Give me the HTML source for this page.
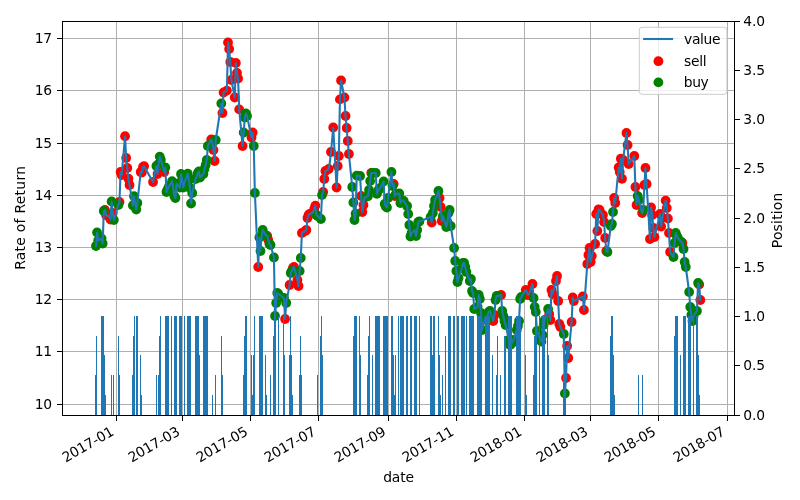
<!DOCTYPE html>
<html><head><meta charset="utf-8"><title>chart</title>
<style>html,body{margin:0;padding:0;background:#fff;overflow:hidden}body{width:800px;height:500px}</style>
</head><body>
<svg width="800" height="500" viewBox="0 0 800 500" style="display:block;font-family:'DejaVu Sans','Liberation Sans',sans-serif">
<rect width="800" height="500" fill="#fff"/>
<path d="M116.5 21.5V415.5M182.5 21.5V415.5M250.5 21.5V415.5M318.5 21.5V415.5M388.5 21.5V415.5M456.5 21.5V415.5M524.5 21.5V415.5M590.5 21.5V415.5M658.5 21.5V415.5M727.5 21.5V415.5M62.5 404.5H734.5M62.5 351.5H734.5M62.5 299.5H734.5M62.5 247.5H734.5M62.5 195.5H734.5M62.5 143.5H734.5M62.5 90.5H734.5M62.5 38.5H734.5" stroke="#b0b0b0" stroke-width="1" fill="none" shape-rendering="crispEdges"/>
<g fill="#ff0000"><circle cx="104.91" cy="210.00" r="4.9"/><circle cx="106.03" cy="215.00" r="4.9"/><circle cx="109.38" cy="217.00" r="4.9"/><circle cx="110.50" cy="219.50" r="4.9"/><circle cx="112.74" cy="213.00" r="4.9"/><circle cx="119.46" cy="202.00" r="4.9"/><circle cx="120.58" cy="172.00" r="4.9"/><circle cx="121.70" cy="175.00" r="4.9"/><circle cx="125.05" cy="136.25" r="4.9"/><circle cx="126.17" cy="158.00" r="4.9"/><circle cx="127.29" cy="168.00" r="4.9"/><circle cx="128.41" cy="178.75" r="4.9"/><circle cx="129.53" cy="185.00" r="4.9"/><circle cx="140.72" cy="172.00" r="4.9"/><circle cx="141.84" cy="172.50" r="4.9"/><circle cx="142.96" cy="167.00" r="4.9"/><circle cx="144.08" cy="166.25" r="4.9"/><circle cx="153.03" cy="182.00" r="4.9"/><circle cx="157.51" cy="174.00" r="4.9"/><circle cx="164.23" cy="172.00" r="4.9"/><circle cx="211.23" cy="139.50" r="4.9"/><circle cx="213.47" cy="150.00" r="4.9"/><circle cx="214.59" cy="161.00" r="4.9"/><circle cx="222.42" cy="113.00" r="4.9"/><circle cx="223.54" cy="92.50" r="4.9"/><circle cx="226.90" cy="90.60" r="4.9"/><circle cx="228.02" cy="42.50" r="4.9"/><circle cx="229.14" cy="49.00" r="4.9"/><circle cx="230.26" cy="62.00" r="4.9"/><circle cx="231.38" cy="80.00" r="4.9"/><circle cx="234.74" cy="97.50" r="4.9"/><circle cx="235.85" cy="63.00" r="4.9"/><circle cx="236.97" cy="73.00" r="4.9"/><circle cx="238.09" cy="78.50" r="4.9"/><circle cx="239.21" cy="109.40" r="4.9"/><circle cx="242.57" cy="146.00" r="4.9"/><circle cx="251.52" cy="137.50" r="4.9"/><circle cx="252.64" cy="132.50" r="4.9"/><circle cx="258.24" cy="267.00" r="4.9"/><circle cx="267.19" cy="236.00" r="4.9"/><circle cx="268.31" cy="240.00" r="4.9"/><circle cx="285.10" cy="319.00" r="4.9"/><circle cx="289.58" cy="285.00" r="4.9"/><circle cx="292.93" cy="268.00" r="4.9"/><circle cx="294.05" cy="267.00" r="4.9"/><circle cx="297.41" cy="280.00" r="4.9"/><circle cx="298.53" cy="286.00" r="4.9"/><circle cx="301.89" cy="233.00" r="4.9"/><circle cx="305.24" cy="231.00" r="4.9"/><circle cx="306.36" cy="230.00" r="4.9"/><circle cx="307.48" cy="218.00" r="4.9"/><circle cx="308.60" cy="215.00" r="4.9"/><circle cx="309.72" cy="214.00" r="4.9"/><circle cx="313.08" cy="212.50" r="4.9"/><circle cx="314.20" cy="209.00" r="4.9"/><circle cx="315.32" cy="205.60" r="4.9"/><circle cx="323.15" cy="192.00" r="4.9"/><circle cx="324.27" cy="179.00" r="4.9"/><circle cx="325.39" cy="171.00" r="4.9"/><circle cx="328.75" cy="169.00" r="4.9"/><circle cx="330.99" cy="152.00" r="4.9"/><circle cx="333.22" cy="127.50" r="4.9"/><circle cx="336.58" cy="187.50" r="4.9"/><circle cx="337.70" cy="166.00" r="4.9"/><circle cx="338.82" cy="156.00" r="4.9"/><circle cx="339.94" cy="99.40" r="4.9"/><circle cx="341.06" cy="80.50" r="4.9"/><circle cx="344.42" cy="97.50" r="4.9"/><circle cx="345.54" cy="116.00" r="4.9"/><circle cx="346.66" cy="128.00" r="4.9"/><circle cx="347.77" cy="141.00" r="4.9"/><circle cx="348.89" cy="154.00" r="4.9"/><circle cx="361.20" cy="196.00" r="4.9"/><circle cx="362.32" cy="212.00" r="4.9"/><circle cx="363.44" cy="205.00" r="4.9"/><circle cx="371.28" cy="173.00" r="4.9"/><circle cx="393.66" cy="184.00" r="4.9"/><circle cx="394.78" cy="196.00" r="4.9"/><circle cx="431.71" cy="222.50" r="4.9"/><circle cx="439.55" cy="198.00" r="4.9"/><circle cx="440.67" cy="207.00" r="4.9"/><circle cx="441.79" cy="221.00" r="4.9"/><circle cx="493.27" cy="321.00" r="4.9"/><circle cx="494.39" cy="315.00" r="4.9"/><circle cx="501.10" cy="295.00" r="4.9"/><circle cx="525.73" cy="290.00" r="4.9"/><circle cx="526.85" cy="292.00" r="4.9"/><circle cx="527.97" cy="295.00" r="4.9"/><circle cx="529.08" cy="294.00" r="4.9"/><circle cx="532.44" cy="284.00" r="4.9"/><circle cx="549.23" cy="314.00" r="4.9"/><circle cx="550.35" cy="320.00" r="4.9"/><circle cx="551.47" cy="290.00" r="4.9"/><circle cx="552.59" cy="294.00" r="4.9"/><circle cx="555.95" cy="281.00" r="4.9"/><circle cx="557.06" cy="276.00" r="4.9"/><circle cx="558.18" cy="301.00" r="4.9"/><circle cx="559.30" cy="324.00" r="4.9"/><circle cx="560.42" cy="327.00" r="4.9"/><circle cx="566.02" cy="378.00" r="4.9"/><circle cx="567.14" cy="346.00" r="4.9"/><circle cx="568.26" cy="358.00" r="4.9"/><circle cx="571.61" cy="322.00" r="4.9"/><circle cx="572.73" cy="297.50" r="4.9"/><circle cx="573.85" cy="301.00" r="4.9"/><circle cx="582.81" cy="296.50" r="4.9"/><circle cx="583.93" cy="310.00" r="4.9"/><circle cx="587.28" cy="264.00" r="4.9"/><circle cx="588.40" cy="255.00" r="4.9"/><circle cx="589.52" cy="248.00" r="4.9"/><circle cx="590.64" cy="262.00" r="4.9"/><circle cx="591.76" cy="256.00" r="4.9"/><circle cx="595.12" cy="244.00" r="4.9"/><circle cx="596.24" cy="214.00" r="4.9"/><circle cx="597.36" cy="231.00" r="4.9"/><circle cx="598.48" cy="209.50" r="4.9"/><circle cx="599.59" cy="210.00" r="4.9"/><circle cx="602.95" cy="215.00" r="4.9"/><circle cx="604.07" cy="222.00" r="4.9"/><circle cx="605.19" cy="238.00" r="4.9"/><circle cx="606.31" cy="251.00" r="4.9"/><circle cx="614.14" cy="198.00" r="4.9"/><circle cx="615.26" cy="203.00" r="4.9"/><circle cx="618.62" cy="167.50" r="4.9"/><circle cx="619.74" cy="172.00" r="4.9"/><circle cx="620.86" cy="158.75" r="4.9"/><circle cx="621.98" cy="178.75" r="4.9"/><circle cx="623.10" cy="160.00" r="4.9"/><circle cx="626.46" cy="133.00" r="4.9"/><circle cx="627.57" cy="145.00" r="4.9"/><circle cx="628.69" cy="164.00" r="4.9"/><circle cx="634.29" cy="156.00" r="4.9"/><circle cx="635.41" cy="187.00" r="4.9"/><circle cx="636.53" cy="205.00" r="4.9"/><circle cx="642.12" cy="213.00" r="4.9"/><circle cx="644.36" cy="185.00" r="4.9"/><circle cx="645.48" cy="168.00" r="4.9"/><circle cx="646.60" cy="184.00" r="4.9"/><circle cx="649.96" cy="239.00" r="4.9"/><circle cx="651.08" cy="207.50" r="4.9"/><circle cx="652.20" cy="215.00" r="4.9"/><circle cx="653.32" cy="228.00" r="4.9"/><circle cx="654.44" cy="237.00" r="4.9"/><circle cx="660.03" cy="214.00" r="4.9"/><circle cx="661.15" cy="226.50" r="4.9"/><circle cx="662.27" cy="218.00" r="4.9"/><circle cx="665.63" cy="200.60" r="4.9"/><circle cx="666.75" cy="208.00" r="4.9"/><circle cx="667.87" cy="218.50" r="4.9"/><circle cx="668.98" cy="233.00" r="4.9"/><circle cx="670.10" cy="252.00" r="4.9"/><circle cx="682.42" cy="243.00" r="4.9"/><circle cx="699.20" cy="284.50" r="4.9"/><circle cx="700.32" cy="300.00" r="4.9"/></g>
<g fill="#008000"><circle cx="95.95" cy="246.00" r="4.9"/><circle cx="97.07" cy="232.50" r="4.9"/><circle cx="98.19" cy="240.50" r="4.9"/><circle cx="101.55" cy="238.50" r="4.9"/><circle cx="102.67" cy="243.50" r="4.9"/><circle cx="103.79" cy="211.00" r="4.9"/><circle cx="111.62" cy="201.50" r="4.9"/><circle cx="113.86" cy="220.00" r="4.9"/><circle cx="118.34" cy="205.00" r="4.9"/><circle cx="132.89" cy="205.50" r="4.9"/><circle cx="134.01" cy="196.25" r="4.9"/><circle cx="135.13" cy="203.00" r="4.9"/><circle cx="136.25" cy="209.50" r="4.9"/><circle cx="137.36" cy="203.00" r="4.9"/><circle cx="156.39" cy="166.00" r="4.9"/><circle cx="158.63" cy="164.00" r="4.9"/><circle cx="159.75" cy="156.60" r="4.9"/><circle cx="160.87" cy="160.00" r="4.9"/><circle cx="165.34" cy="167.50" r="4.9"/><circle cx="166.46" cy="192.00" r="4.9"/><circle cx="167.58" cy="189.50" r="4.9"/><circle cx="168.70" cy="187.00" r="4.9"/><circle cx="172.06" cy="181.25" r="4.9"/><circle cx="173.18" cy="188.00" r="4.9"/><circle cx="174.30" cy="196.00" r="4.9"/><circle cx="175.42" cy="198.00" r="4.9"/><circle cx="176.54" cy="183.75" r="4.9"/><circle cx="179.89" cy="187.50" r="4.9"/><circle cx="181.01" cy="174.00" r="4.9"/><circle cx="182.13" cy="180.00" r="4.9"/><circle cx="183.25" cy="187.50" r="4.9"/><circle cx="184.37" cy="183.00" r="4.9"/><circle cx="187.73" cy="173.75" r="4.9"/><circle cx="188.85" cy="180.00" r="4.9"/><circle cx="189.97" cy="188.00" r="4.9"/><circle cx="191.09" cy="203.50" r="4.9"/><circle cx="192.21" cy="193.00" r="4.9"/><circle cx="195.56" cy="179.00" r="4.9"/><circle cx="196.68" cy="177.00" r="4.9"/><circle cx="197.80" cy="173.00" r="4.9"/><circle cx="198.92" cy="171.50" r="4.9"/><circle cx="200.04" cy="177.50" r="4.9"/><circle cx="203.40" cy="174.00" r="4.9"/><circle cx="204.52" cy="169.00" r="4.9"/><circle cx="205.64" cy="165.00" r="4.9"/><circle cx="206.76" cy="160.00" r="4.9"/><circle cx="207.87" cy="146.00" r="4.9"/><circle cx="212.35" cy="143.00" r="4.9"/><circle cx="215.71" cy="140.00" r="4.9"/><circle cx="221.30" cy="103.50" r="4.9"/><circle cx="243.69" cy="132.50" r="4.9"/><circle cx="244.81" cy="117.50" r="4.9"/><circle cx="245.93" cy="113.50" r="4.9"/><circle cx="247.05" cy="116.00" r="4.9"/><circle cx="253.76" cy="146.00" r="4.9"/><circle cx="254.88" cy="193.00" r="4.9"/><circle cx="259.36" cy="237.50" r="4.9"/><circle cx="260.48" cy="251.00" r="4.9"/><circle cx="261.60" cy="236.00" r="4.9"/><circle cx="262.72" cy="230.00" r="4.9"/><circle cx="266.07" cy="235.50" r="4.9"/><circle cx="269.43" cy="244.00" r="4.9"/><circle cx="270.55" cy="245.00" r="4.9"/><circle cx="273.91" cy="257.50" r="4.9"/><circle cx="275.03" cy="316.00" r="4.9"/><circle cx="276.15" cy="303.00" r="4.9"/><circle cx="277.26" cy="293.00" r="4.9"/><circle cx="278.38" cy="294.00" r="4.9"/><circle cx="283.98" cy="298.00" r="4.9"/><circle cx="286.22" cy="303.00" r="4.9"/><circle cx="290.70" cy="273.00" r="4.9"/><circle cx="291.81" cy="271.00" r="4.9"/><circle cx="299.65" cy="271.00" r="4.9"/><circle cx="300.77" cy="258.00" r="4.9"/><circle cx="316.44" cy="215.00" r="4.9"/><circle cx="317.56" cy="216.00" r="4.9"/><circle cx="320.91" cy="219.00" r="4.9"/><circle cx="322.03" cy="195.00" r="4.9"/><circle cx="352.25" cy="187.00" r="4.9"/><circle cx="353.37" cy="202.50" r="4.9"/><circle cx="354.49" cy="220.00" r="4.9"/><circle cx="355.61" cy="213.75" r="4.9"/><circle cx="356.73" cy="175.60" r="4.9"/><circle cx="360.09" cy="176.00" r="4.9"/><circle cx="364.56" cy="197.50" r="4.9"/><circle cx="367.92" cy="196.25" r="4.9"/><circle cx="369.04" cy="190.00" r="4.9"/><circle cx="370.16" cy="181.00" r="4.9"/><circle cx="372.40" cy="173.00" r="4.9"/><circle cx="375.75" cy="173.00" r="4.9"/><circle cx="376.87" cy="193.75" r="4.9"/><circle cx="377.99" cy="191.00" r="4.9"/><circle cx="379.11" cy="189.00" r="4.9"/><circle cx="380.23" cy="188.00" r="4.9"/><circle cx="383.59" cy="181.50" r="4.9"/><circle cx="384.71" cy="204.00" r="4.9"/><circle cx="385.83" cy="206.50" r="4.9"/><circle cx="386.95" cy="207.50" r="4.9"/><circle cx="388.07" cy="198.00" r="4.9"/><circle cx="391.42" cy="172.00" r="4.9"/><circle cx="392.54" cy="186.00" r="4.9"/><circle cx="395.90" cy="194.00" r="4.9"/><circle cx="399.26" cy="193.50" r="4.9"/><circle cx="400.38" cy="203.00" r="4.9"/><circle cx="401.50" cy="201.00" r="4.9"/><circle cx="402.62" cy="200.60" r="4.9"/><circle cx="403.73" cy="201.00" r="4.9"/><circle cx="407.09" cy="206.00" r="4.9"/><circle cx="408.21" cy="214.00" r="4.9"/><circle cx="409.33" cy="225.00" r="4.9"/><circle cx="410.45" cy="236.50" r="4.9"/><circle cx="411.57" cy="233.00" r="4.9"/><circle cx="414.93" cy="230.00" r="4.9"/><circle cx="416.05" cy="236.00" r="4.9"/><circle cx="417.16" cy="230.00" r="4.9"/><circle cx="418.28" cy="222.00" r="4.9"/><circle cx="419.40" cy="221.50" r="4.9"/><circle cx="430.60" cy="217.00" r="4.9"/><circle cx="432.83" cy="213.00" r="4.9"/><circle cx="433.95" cy="206.00" r="4.9"/><circle cx="435.07" cy="200.00" r="4.9"/><circle cx="438.43" cy="191.00" r="4.9"/><circle cx="442.91" cy="216.00" r="4.9"/><circle cx="446.26" cy="227.00" r="4.9"/><circle cx="447.38" cy="222.00" r="4.9"/><circle cx="448.50" cy="213.00" r="4.9"/><circle cx="449.62" cy="210.00" r="4.9"/><circle cx="450.74" cy="226.00" r="4.9"/><circle cx="454.10" cy="248.00" r="4.9"/><circle cx="455.22" cy="261.00" r="4.9"/><circle cx="456.34" cy="271.00" r="4.9"/><circle cx="457.46" cy="282.00" r="4.9"/><circle cx="458.58" cy="278.00" r="4.9"/><circle cx="461.93" cy="268.00" r="4.9"/><circle cx="463.05" cy="263.00" r="4.9"/><circle cx="464.17" cy="263.00" r="4.9"/><circle cx="465.29" cy="267.00" r="4.9"/><circle cx="466.41" cy="272.00" r="4.9"/><circle cx="469.77" cy="281.00" r="4.9"/><circle cx="470.89" cy="279.00" r="4.9"/><circle cx="472.01" cy="291.00" r="4.9"/><circle cx="473.12" cy="293.00" r="4.9"/><circle cx="474.24" cy="309.00" r="4.9"/><circle cx="477.60" cy="307.00" r="4.9"/><circle cx="478.72" cy="295.00" r="4.9"/><circle cx="479.84" cy="299.00" r="4.9"/><circle cx="480.96" cy="313.00" r="4.9"/><circle cx="482.08" cy="330.00" r="4.9"/><circle cx="485.44" cy="317.00" r="4.9"/><circle cx="486.56" cy="320.00" r="4.9"/><circle cx="487.67" cy="315.00" r="4.9"/><circle cx="488.79" cy="312.00" r="4.9"/><circle cx="489.91" cy="311.00" r="4.9"/><circle cx="495.51" cy="300.00" r="4.9"/><circle cx="496.63" cy="296.00" r="4.9"/><circle cx="497.75" cy="296.00" r="4.9"/><circle cx="502.22" cy="311.00" r="4.9"/><circle cx="503.34" cy="316.00" r="4.9"/><circle cx="504.46" cy="321.00" r="4.9"/><circle cx="505.58" cy="325.00" r="4.9"/><circle cx="508.94" cy="340.00" r="4.9"/><circle cx="510.06" cy="345.00" r="4.9"/><circle cx="511.18" cy="344.00" r="4.9"/><circle cx="512.30" cy="342.50" r="4.9"/><circle cx="513.42" cy="340.00" r="4.9"/><circle cx="516.77" cy="330.00" r="4.9"/><circle cx="517.89" cy="326.00" r="4.9"/><circle cx="519.01" cy="321.00" r="4.9"/><circle cx="520.13" cy="299.00" r="4.9"/><circle cx="521.25" cy="297.00" r="4.9"/><circle cx="533.56" cy="298.00" r="4.9"/><circle cx="534.68" cy="307.00" r="4.9"/><circle cx="535.80" cy="312.00" r="4.9"/><circle cx="536.92" cy="331.00" r="4.9"/><circle cx="540.28" cy="339.00" r="4.9"/><circle cx="541.40" cy="341.50" r="4.9"/><circle cx="542.52" cy="335.00" r="4.9"/><circle cx="543.63" cy="325.00" r="4.9"/><circle cx="544.75" cy="320.00" r="4.9"/><circle cx="548.11" cy="309.00" r="4.9"/><circle cx="563.78" cy="334.00" r="4.9"/><circle cx="564.90" cy="393.50" r="4.9"/><circle cx="607.43" cy="252.00" r="4.9"/><circle cx="610.79" cy="226.00" r="4.9"/><circle cx="611.91" cy="224.00" r="4.9"/><circle cx="613.02" cy="212.00" r="4.9"/><circle cx="637.65" cy="196.00" r="4.9"/><circle cx="638.77" cy="200.00" r="4.9"/><circle cx="643.24" cy="210.00" r="4.9"/><circle cx="673.46" cy="257.00" r="4.9"/><circle cx="674.58" cy="243.00" r="4.9"/><circle cx="675.70" cy="233.00" r="4.9"/><circle cx="676.82" cy="236.00" r="4.9"/><circle cx="677.94" cy="238.00" r="4.9"/><circle cx="681.30" cy="242.00" r="4.9"/><circle cx="683.53" cy="249.00" r="4.9"/><circle cx="684.65" cy="262.00" r="4.9"/><circle cx="685.77" cy="267.00" r="4.9"/><circle cx="689.13" cy="292.00" r="4.9"/><circle cx="690.25" cy="307.00" r="4.9"/><circle cx="691.37" cy="315.00" r="4.9"/><circle cx="692.49" cy="321.00" r="4.9"/><circle cx="693.61" cy="316.00" r="4.9"/><circle cx="696.96" cy="311.00" r="4.9"/><circle cx="698.08" cy="283.00" r="4.9"/></g>
<polyline points="95.95,246.00 97.07,232.50 98.19,240.50 101.55,238.50 102.67,243.50 103.79,211.00 104.91,210.00 106.03,215.00 109.38,217.00 110.50,219.50 111.62,201.50 112.74,213.00 113.86,220.00 118.34,205.00 119.46,202.00 120.58,172.00 121.70,175.00 125.05,136.25 126.17,158.00 127.29,168.00 128.41,178.75 129.53,185.00 132.89,205.50 134.01,196.25 135.13,203.00 136.25,209.50 137.36,203.00 140.72,172.00 141.84,172.50 142.96,167.00 144.08,166.25 153.03,182.00 156.39,166.00 157.51,174.00 158.63,164.00 159.75,156.60 160.87,160.00 164.23,172.00 165.34,167.50 166.46,192.00 167.58,189.50 168.70,187.00 172.06,181.25 173.18,188.00 174.30,196.00 175.42,198.00 176.54,183.75 179.89,187.50 181.01,174.00 182.13,180.00 183.25,187.50 184.37,183.00 187.73,173.75 188.85,180.00 189.97,188.00 191.09,203.50 192.21,193.00 195.56,179.00 196.68,177.00 197.80,173.00 198.92,171.50 200.04,177.50 203.40,174.00 204.52,169.00 205.64,165.00 206.76,160.00 207.87,146.00 211.23,139.50 212.35,143.00 213.47,150.00 214.59,161.00 215.71,140.00 221.30,103.50 222.42,113.00 223.54,92.50 226.90,90.60 228.02,42.50 229.14,49.00 230.26,62.00 231.38,80.00 234.74,97.50 235.85,63.00 236.97,73.00 238.09,78.50 239.21,109.40 242.57,146.00 243.69,132.50 244.81,117.50 245.93,113.50 247.05,116.00 251.52,137.50 252.64,132.50 253.76,146.00 254.88,193.00 258.24,267.00 259.36,237.50 260.48,251.00 261.60,236.00 262.72,230.00 266.07,235.50 267.19,236.00 268.31,240.00 269.43,244.00 270.55,245.00 273.91,257.50 275.03,316.00 276.15,303.00 277.26,293.00 278.38,294.00 283.98,298.00 285.10,319.00 286.22,303.00 289.58,285.00 290.70,273.00 291.81,271.00 292.93,268.00 294.05,267.00 297.41,280.00 298.53,286.00 299.65,271.00 300.77,258.00 301.89,233.00 305.24,231.00 306.36,230.00 307.48,218.00 308.60,215.00 309.72,214.00 313.08,212.50 314.20,209.00 315.32,205.60 316.44,215.00 317.56,216.00 320.91,219.00 322.03,195.00 323.15,192.00 324.27,179.00 325.39,171.00 328.75,169.00 329.87,162.00 330.99,152.00 332.11,140.00 333.22,127.50 336.58,187.50 337.70,166.00 338.82,156.00 339.94,99.40 341.06,80.50 344.42,97.50 345.54,116.00 346.66,128.00 347.77,141.00 348.89,154.00 352.25,187.00 353.37,202.50 354.49,220.00 355.61,213.75 356.73,175.60 360.09,176.00 361.20,196.00 362.32,212.00 363.44,205.00 364.56,197.50 367.92,196.25 369.04,190.00 370.16,181.00 371.28,173.00 372.40,173.00 375.75,173.00 376.87,193.75 377.99,191.00 379.11,189.00 380.23,188.00 383.59,181.50 384.71,204.00 385.83,206.50 386.95,207.50 388.07,198.00 391.42,172.00 392.54,186.00 393.66,184.00 394.78,196.00 395.90,194.00 399.26,193.50 400.38,203.00 401.50,201.00 402.62,200.60 403.73,201.00 407.09,206.00 408.21,214.00 409.33,225.00 410.45,236.50 411.57,233.00 414.93,230.00 416.05,236.00 417.16,230.00 418.28,222.00 419.40,221.50 430.60,217.00 431.71,222.50 432.83,213.00 433.95,206.00 435.07,200.00 438.43,191.00 439.55,198.00 440.67,207.00 441.79,221.00 442.91,216.00 446.26,227.00 447.38,222.00 448.50,213.00 449.62,210.00 450.74,226.00 454.10,248.00 455.22,261.00 456.34,271.00 457.46,282.00 458.58,278.00 461.93,268.00 463.05,263.00 464.17,263.00 465.29,267.00 466.41,272.00 469.77,281.00 470.89,279.00 472.01,291.00 473.12,293.00 474.24,309.00 477.60,307.00 478.72,295.00 479.84,299.00 480.96,313.00 482.08,330.00 485.44,317.00 486.56,320.00 487.67,315.00 488.79,312.00 489.91,311.00 493.27,321.00 494.39,315.00 495.51,300.00 496.63,296.00 497.75,296.00 501.10,295.00 502.22,311.00 503.34,316.00 504.46,321.00 505.58,325.00 508.94,340.00 510.06,345.00 511.18,344.00 512.30,342.50 513.42,340.00 516.77,330.00 517.89,326.00 519.01,321.00 520.13,299.00 521.25,297.00 525.73,290.00 526.85,292.00 527.97,295.00 529.08,294.00 532.44,284.00 533.56,298.00 534.68,307.00 535.80,312.00 536.92,331.00 540.28,339.00 541.40,341.50 542.52,335.00 543.63,325.00 544.75,320.00 548.11,309.00 549.23,314.00 550.35,320.00 551.47,290.00 552.59,294.00 555.95,281.00 557.06,276.00 558.18,301.00 559.30,324.00 560.42,327.00 563.78,334.00 564.90,393.50 566.02,378.00 567.14,346.00 568.26,358.00 571.61,322.00 572.73,297.50 573.85,301.00 582.81,296.50 583.93,310.00 587.28,264.00 588.40,255.00 589.52,248.00 590.64,262.00 591.76,256.00 595.12,244.00 596.24,214.00 597.36,231.00 598.48,209.50 599.59,210.00 602.95,215.00 604.07,222.00 605.19,238.00 606.31,251.00 607.43,252.00 610.79,226.00 611.91,224.00 613.02,212.00 614.14,198.00 615.26,203.00 618.62,167.50 619.74,172.00 620.86,158.75 621.98,178.75 623.10,160.00 626.46,133.00 627.57,145.00 628.69,164.00 634.29,156.00 635.41,187.00 636.53,205.00 637.65,196.00 638.77,200.00 642.12,213.00 643.24,210.00 644.36,185.00 645.48,168.00 646.60,184.00 649.96,239.00 651.08,207.50 652.20,215.00 653.32,228.00 654.44,237.00 660.03,214.00 661.15,226.50 662.27,218.00 665.63,200.60 666.75,208.00 667.87,218.50 668.98,233.00 670.10,252.00 673.46,257.00 674.58,243.00 675.70,233.00 676.82,236.00 677.94,238.00 681.30,242.00 682.42,243.00 683.53,249.00 684.65,262.00 685.77,267.00 689.13,292.00 690.25,307.00 691.37,315.00 692.49,321.00 693.61,316.00 696.96,311.00 698.08,283.00 699.20,284.50 700.32,300.00" fill="none" stroke="#1f77b4" stroke-width="2.08" stroke-linejoin="round" stroke-linecap="square"/>
<path d="M95 375H96V415H95ZM96 336H97V415H96ZM101 316H104V415H101ZM104 355H105V415H104ZM105 395H106V415H105ZM111 375H112V415H111ZM113 375H114V415H113ZM118 336H119V415H118ZM119 375H120V415H119ZM132 375H133V415H132ZM133 336H134V415H133ZM134 316H135V415H134ZM136 316H138V415H136ZM140 355H141V415H140ZM141 395H142V415H141ZM156 375H157V415H156ZM158 375H159V415H158ZM159 336H160V415H159ZM160 316H161V415H160ZM165 316H169V415H165ZM171 316H172V415H171ZM174 316H177V415H174ZM179 316H182V415H179ZM184 316H185V415H184ZM187 316H191V415H187ZM195 316H199V415H195ZM199 355H200V415H199ZM203 316H208V415H203ZM212 395H213V415H212ZM215 375H216V415H215ZM221 336H222V415H221ZM222 375H223V415H222ZM243 375H244V415H243ZM244 336H245V415H244ZM245 316H247V415H245ZM251 355H252V415H251ZM252 395H253V415H252ZM253 355H254V415H253ZM254 316H255V415H254ZM259 316H263V415H259ZM265 355H266V415H265ZM266 395H267V415H266ZM270 375H271V415H270ZM273 336H274V415H273ZM274 316H276V415H274ZM278 316H279V415H278ZM283 316H284V415H283ZM284 355H285V415H284ZM289 355H290V415H289ZM290 316H291V415H290ZM291 355H292V415H291ZM292 395H293V415H292ZM299 375H300V415H299ZM300 336H301V415H300ZM301 375H302V415H301ZM317 375H318V415H317ZM320 336H321V415H320ZM321 316H322V415H321ZM322 355H323V415H322ZM353 336H354V415H353ZM354 316H357V415H354ZM359 316H360V415H359ZM360 355H361V415H360ZM367 375H368V415H367ZM368 336H369V415H368ZM369 316H370V415H369ZM372 355H373V415H372ZM375 316H380V415H375ZM383 316H388V415H383ZM391 316H393V415H391ZM393 355H394V415H393ZM394 395H395V415H394ZM395 355H396V415H395ZM398 316H399V415H398ZM400 316H404V415H400ZM406 316H408V415H406ZM410 316H412V415H410ZM414 316H417V415H414ZM419 316H420V415H419ZM430 316H432V415H430ZM432 355H433V415H432ZM433 316H435V415H433ZM438 316H439V415H438ZM439 355H440V415H439ZM440 395H441V415H440ZM442 375H443V415H442ZM445 336H446V415H445ZM448 316H451V415H448ZM453 316H455V415H453ZM457 316H459V415H457ZM461 316H465V415H461ZM466 316H467V415H466ZM469 316H474V415H469ZM477 316H482V415H477ZM485 316H490V415H485ZM492 355H493V415H492ZM496 375H497V415H496ZM497 336H498V415H497ZM500 375H501V415H500ZM504 336H506V415H504ZM508 316H512V415H508ZM516 316H521V415H516ZM525 355H526V415H525ZM526 395H527V415H526ZM533 375H534V415H533ZM534 336H535V415H534ZM535 316H537V415H535ZM539 316H540V415H539ZM542 316H545V415H542ZM547 316H548V415H547ZM548 355H549V415H548ZM563 375H566V415H563ZM610 336H611V415H610ZM611 316H613V415H611ZM613 355H614V415H613ZM614 395H615V415H614ZM638 375H639V415H638ZM642 375H643V415H642ZM674 336H675V415H674ZM675 316H678V415H675ZM680 355H681V415H680ZM683 316H686V415H683ZM688 316H691V415H688ZM693 316H694V415H693ZM696 316H698V415H696ZM698 355H699V415H698ZM699 395H700V415H699Z" fill="#1f77b4" shape-rendering="crispEdges"/>
<rect x="639.3" y="27.3" width="87.6" height="67.0" rx="2.8" ry="2.8" fill="#fff" fill-opacity="0.8" stroke="#ccc" stroke-width="1"/>
<path d="M643.1 39H673.1" stroke="#1f77b4" stroke-width="2.08"/>
<circle cx="658.4" cy="61.2" r="4.9" fill="#f00"/><circle cx="658.4" cy="82.4" r="4.9" fill="#008000"/>
<g font-size="13.89px" fill="#000" letter-spacing="-0.36"><text x="684.1" y="43.7">value</text><text x="684.1" y="65.5">sell</text><text x="683.7" y="86.6">buy</text></g>
<rect x="62.5" y="21.5" width="672.0" height="394.0" fill="none" stroke="#000" stroke-width="1" shape-rendering="crispEdges"/>
<path d="M116.5 415.5v5M182.5 415.5v5M250.5 415.5v5M318.5 415.5v5M388.5 415.5v5M456.5 415.5v5M524.5 415.5v5M590.5 415.5v5M658.5 415.5v5M727.5 415.5v5M62.5 404.5h-5.5M62.5 351.5h-5.5M62.5 299.5h-5.5M62.5 247.5h-5.5M62.5 195.5h-5.5M62.5 143.5h-5.5M62.5 90.5h-5.5M62.5 38.5h-5.5M734.5 415.5h5.5M734.5 365.5h5.5M734.5 316.5h5.5M734.5 267.5h5.5M734.5 218.5h5.5M734.5 168.5h5.5M734.5 119.5h5.5M734.5 70.5h5.5M734.5 21.5h5.5" stroke="#000" stroke-width="1" fill="none" shape-rendering="crispEdges"/>
<g font-size="13.89px" fill="#000" letter-spacing="-0.2">
<text x="51.9" y="408.9" text-anchor="end">10</text>
<text x="51.9" y="355.9" text-anchor="end">11</text>
<text x="51.9" y="303.9" text-anchor="end">12</text>
<text x="51.9" y="251.9" text-anchor="end">13</text>
<text x="51.9" y="199.9" text-anchor="end">14</text>
<text x="51.9" y="147.9" text-anchor="end">15</text>
<text x="51.9" y="94.9" text-anchor="end">16</text>
<text x="51.9" y="42.9" text-anchor="end">17</text>
<text x="743.3" y="420.4">0.0</text>
<text x="743.3" y="370.4">0.5</text>
<text x="743.3" y="321.4">1.0</text>
<text x="743.3" y="272.4">1.5</text>
<text x="743.3" y="223.4">2.0</text>
<text x="743.3" y="173.4">2.5</text>
<text x="743.3" y="124.4">3.0</text>
<text x="743.3" y="75.4">3.5</text>
<text x="743.3" y="26.4">4.0</text>
<text transform="translate(109.4,425.3) rotate(-30)" text-anchor="end" y="10.5">2017-01</text>
<text transform="translate(175.4,425.3) rotate(-30)" text-anchor="end" y="10.5">2017-03</text>
<text transform="translate(243.4,425.3) rotate(-30)" text-anchor="end" y="10.5">2017-05</text>
<text transform="translate(311.4,425.3) rotate(-30)" text-anchor="end" y="10.5">2017-07</text>
<text transform="translate(381.4,425.3) rotate(-30)" text-anchor="end" y="10.5">2017-09</text>
<text transform="translate(449.4,425.3) rotate(-30)" text-anchor="end" y="10.5">2017-11</text>
<text transform="translate(517.4,425.3) rotate(-30)" text-anchor="end" y="10.5">2018-01</text>
<text transform="translate(583.4,425.3) rotate(-30)" text-anchor="end" y="10.5">2018-03</text>
<text transform="translate(651.4,425.3) rotate(-30)" text-anchor="end" y="10.5">2018-05</text>
<text transform="translate(720.4,425.3) rotate(-30)" text-anchor="end" y="10.5">2018-07</text>
<text x="398.5" y="482.3" text-anchor="middle">date</text>
<text transform="translate(24.9,217.8) rotate(-90)" text-anchor="middle" letter-spacing="0.29">Rate of Return</text>
<text transform="translate(782,220.3) rotate(-90)" text-anchor="middle" letter-spacing="0.22">Position</text>
</g>
</svg>
</body></html>
